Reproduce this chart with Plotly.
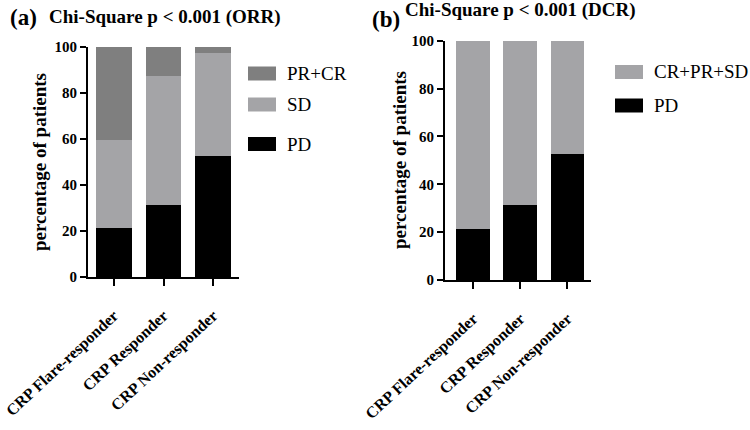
import plotly.graph_objects as go

# response groups
categories = ["CRP Flare-responder", "CRP Responder", "CRP Non-responder"]

# (a) ORR breakdown, % of patients
pd_pct = [21.4, 31.3, 52.5]
sd_pct = [38.1, 56.2, 45.0]
prcr_pct = [40.5, 12.5, 2.5]

# (b) DCR breakdown, % of patients
dcr_pd_pct = [21.4, 31.3, 52.5]
dcr_ctrl_pct = [78.6, 68.7, 47.5]

W, H = 750, 430
FONT = "Liberation Serif"
BLACK = "#000000"
LIGHT = "#a4a4a7"
DARK = "#7f7f7f"


def px(x):
    return x / W


def py(y):
    return 1 - y / H


fig = go.Figure()

# panel (a)
for name, vals, col in [("PD", pd_pct, BLACK), ("SD", sd_pct, LIGHT), ("PR+CR", prcr_pct, DARK)]:
    fig.add_trace(go.Bar(x=categories, y=vals, name=name, marker=dict(color=col, line_width=0),
                         xaxis="x", yaxis="y", showlegend=False))

# panel (b)
for name, vals, col in [("PD", dcr_pd_pct, BLACK), ("CR+PR+SD", dcr_ctrl_pct, LIGHT)]:
    fig.add_trace(go.Bar(x=categories, y=vals, name=name, marker=dict(color=col, line_width=0),
                         xaxis="x2", yaxis="y2", showlegend=False))

yax = dict(range=[0, 100], tickvals=[0, 20, 40, 60, 80, 100], ticks="outside", ticklen=6,
           tickwidth=2, tickcolor=BLACK, showline=True, linewidth=2, linecolor=BLACK,
           showgrid=False, zeroline=False, automargin=False,
           tickfont=dict(family=FONT, size=15, color=BLACK, weight="bold"))
xax = dict(tickangle=-43, ticks="outside", ticklen=7, tickwidth=2, tickcolor=BLACK,
           showline=True, linewidth=2, linecolor=BLACK, showgrid=False, automargin=False,
           ticklabelstandoff=14,
           tickfont=dict(family=FONT, size=16, color=BLACK, weight="bold"))

fig.update_layout(
    width=W, height=H, margin=dict(l=0, r=0, t=0, b=0),
    paper_bgcolor="white", plot_bgcolor="white",
    barmode="stack", bargap=0.28, showlegend=False,
    font=dict(family=FONT, color=BLACK),
    xaxis=dict(xax, domain=[px(88), px(239)], range=[-0.52, 2.52], anchor="y"),
    yaxis=dict(yax, domain=[py(277), py(47)], anchor="x"),
    xaxis2=dict(xax, domain=[px(445), px(591)], range=[-0.6, 2.5], anchor="y2"),
    yaxis2=dict(yax, domain=[py(280), py(40.7)], anchor="x2"),
)

# axis titles
for xc, yc in [(39, 162), (399, 160)]:
    fig.add_annotation(x=px(xc), y=py(yc), xref="paper", yref="paper", xanchor="center",
                       yanchor="middle", text="percentage of patients", textangle=-90,
                       showarrow=False, font=dict(family=FONT, size=19, weight="bold"))

# panel titles
fig.add_annotation(x=px(8), y=py(18), xref="paper", yref="paper", xanchor="left", yanchor="middle",
                   text="(a)", showarrow=False, font=dict(family=FONT, size=23, weight="bold"))
fig.add_annotation(x=px(47), y=py(17), xref="paper", yref="paper", xanchor="left", yanchor="middle",
                   text="Chi-Square p < 0.001 (ORR)", showarrow=False,
                   font=dict(family=FONT, size=19, weight="bold"))
fig.add_annotation(x=px(370), y=py(19), xref="paper", yref="paper", xanchor="left", yanchor="middle",
                   text="(b)", showarrow=False, font=dict(family=FONT, size=23, weight="bold"))
fig.add_annotation(x=px(403), y=py(10), xref="paper", yref="paper", xanchor="left", yanchor="middle",
                   text="Chi-Square p < 0.001 (DCR)", showarrow=False,
                   font=dict(family=FONT, size=19, weight="bold"))

# legends drawn as swatches + labels
legend_a = [("PR+CR", DARK, 73.5), ("SD", LIGHT, 104.5), ("PD", BLACK, 144)]
legend_b = [("CR+PR+SD", LIGHT, 72), ("PD", BLACK, 105.5)]
for items, x0 in [(legend_a, 248), (legend_b, 615)]:
    for label, col, yc in items:
        fig.add_shape(type="rect", xref="paper", yref="paper", x0=px(x0), x1=px(x0 + 28),
                      y0=py(yc - 7), y1=py(yc + 7), fillcolor=col, line=dict(width=0))
        fig.add_annotation(x=px(x0 + 37), y=py(yc), xref="paper", yref="paper", xanchor="left",
                           yanchor="middle", text=label, showarrow=False,
                           font=dict(family=FONT, size=19, color=BLACK))

# drop the default page margin so the figure sits at the window's corner
fig.write_html("out.html", config={"displayModeBar": False},
               post_script="document.body.style.margin = '0';")
